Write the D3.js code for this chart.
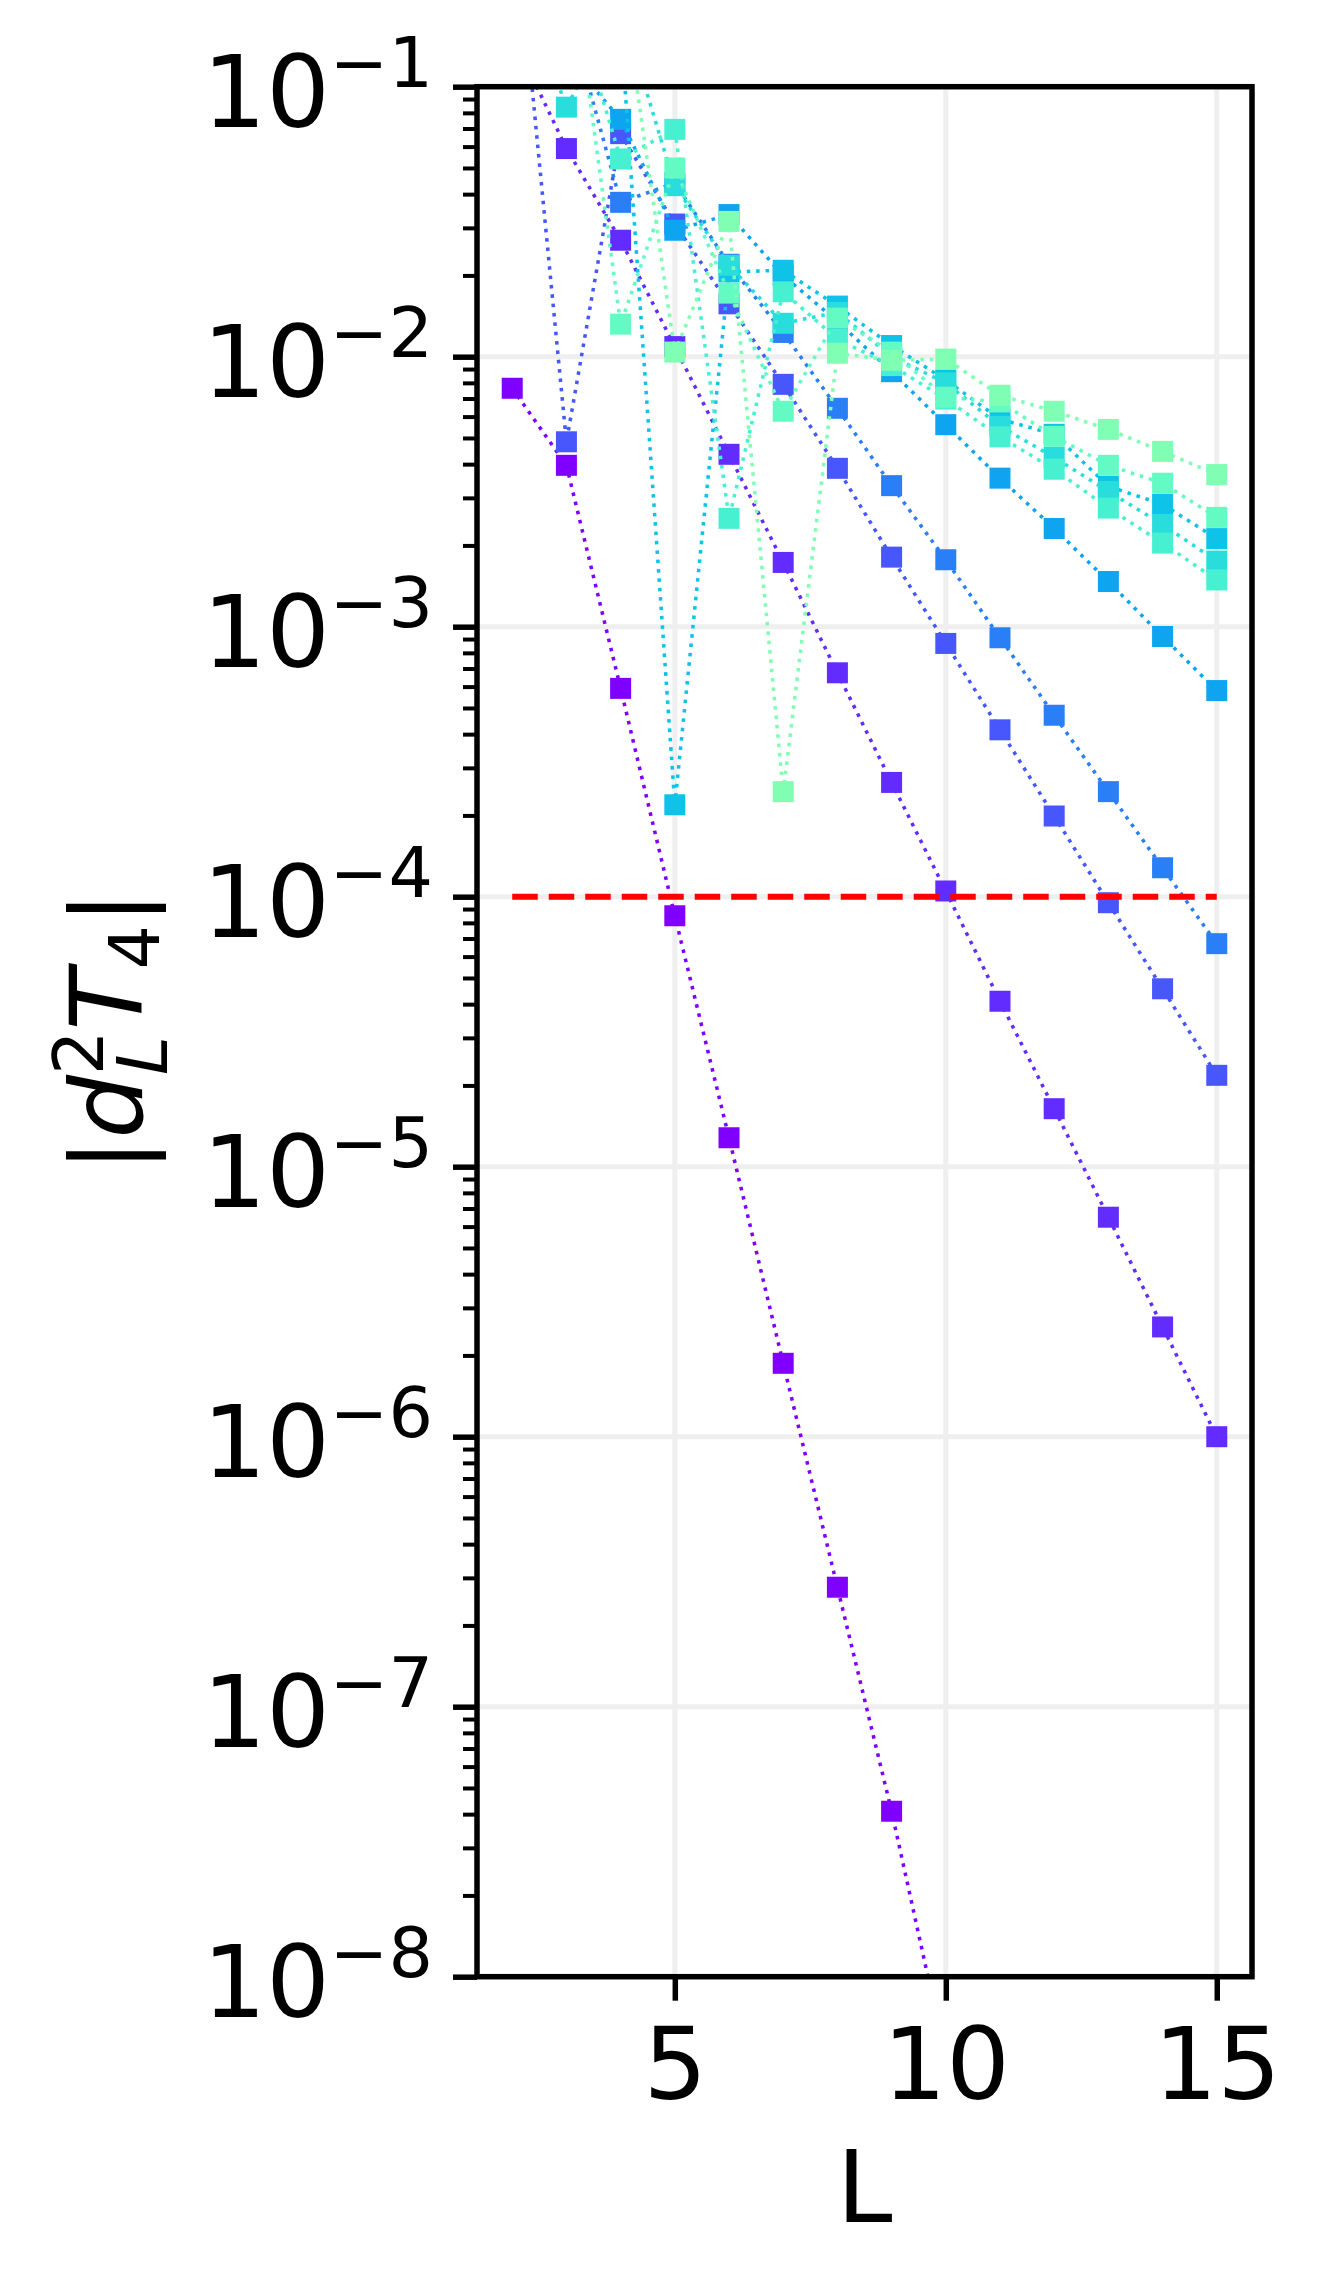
<!DOCTYPE html>
<html>
<head>
<meta charset="utf-8">
<script src="https://cdn.jsdelivr.net/npm/d3@7"></script>
<style>
  body { margin: 0; background: #fff; }
  svg { display: block; }
  text { font-family: "DejaVu Sans", sans-serif; fill: #000; }
</style>
</head>
<body>
<div id="chart"></div>
<script>
// system sizes on the x axis
const sizes = [2, 3, 4, 5, 6, 7, 8, 9, 10, 11, 12, 13, 14, 15];

// |d_L^2 T_4| for each curve (values above 1e-1 / below 1e-8 are off-chart estimates)
const s0 = [7.64e-3, 3.96e-3, 5.91e-4, 8.5e-5, 1.28e-5, 1.87e-6, 2.77e-7, 4.1e-8, 5.0e-9, 7.0e-10, 1.0e-10, 1.5e-11, 2.0e-12, 3.0e-13];
const s1 = [1.55e-1, 5.9e-2, 2.7e-2, 1.09e-2, 4.35e-3, 1.73e-3, 6.75e-4, 2.65e-4, 1.05e-4, 4.1e-5, 1.64e-5, 6.5e-6, 2.55e-6, 1.0e-6];
const s2 = [5.7e-1, 4.84e-3, 6.7e-2, 3.1e-2, 1.57e-2, 7.9e-3, 3.86e-3, 1.81e-3, 8.67e-4, 4.15e-4, 1.99e-4, 9.5e-5, 4.56e-5, 2.18e-5];
const s3 = [2.5e-1, 2.0e-1, 3.73e-2, 4.4e-2, 2.2e-2, 1.23e-2, 6.44e-3, 3.33e-3, 1.77e-3, 9.1e-4, 4.7e-4, 2.45e-4, 1.28e-4, 6.7e-5];
const s4 = [3.0e-1, 1.3e-1, 7.57e-2, 2.94e-2, 3.36e-2, 2.0e-2, 1.35e-2, 8.8e-3, 5.6e-3, 3.55e-3, 2.31e-3, 1.47e-3, 9.2e-4, 5.8e-4];
const s5 = [4.0e-1, 3.0e-1, 1.7e-1, 2.19e-4, 2.06e-2, 2.09e-2, 1.54e-2, 1.1e-2, 8.2e-3, 5.87e-3, 5.16e-3, 3.31e-3, 2.84e-3, 2.12e-3];
const s6 = [3.0e-1, 8.4e-2, 2.0e-1, 4.3e-2, 2.18e-2, 1.33e-2, 1.46e-2, 1.0e-2, 8.0e-3, 5.52e-3, 4.24e-3, 3.17e-3, 2.39e-3, 1.75e-3];
const s7 = [2.0e-1, 2.5e-1, 5.4e-2, 6.95e-2, 2.52e-3, 1.74e-2, 1.16e-2, 9.27e-3, 6.97e-3, 5.05e-3, 3.83e-3, 2.75e-3, 2.04e-3, 1.49e-3];
const s8 = [2.5e-1, 3.9e-1, 1.32e-2, 5.0e-2, 1.72e-2, 6.28e-3, 1.39e-2, 1.04e-2, 7.08e-3, 6.8e-3, 5.07e-3, 3.96e-3, 3.4e-3, 2.54e-3];
const s9 = [3.0e-1, 5.0e-1, 2.6e-1, 1.04e-2, 3.17e-2, 2.45e-4, 1.03e-2, 9.7e-3, 9.8e-3, 7.2e-3, 6.28e-3, 5.38e-3, 4.46e-3, 3.66e-3];
const series = [s0, s1, s2, s3, s4, s5, s6, s7, s8, s9];

// threshold line
const threshold = 1e-4;
const thresholdRange = [2, 15];

// ticks
const xTicks = [5, 10, 15];
const yExponents = [-1, -2, -3, -4, -5, -6, -7, -8];

const W = 1330, H = 2295;
const plot = { left: 477, right: 1252, top: 86.7, bottom: 1976.7 };

// matplotlib "rainbow" colormap
function rainbow(t) {
    const r = Math.abs(2 * t - 0.5);
    const g = Math.sin(Math.PI * t);
    const b = Math.cos(Math.PI * t / 2);
    return d3.rgb(r * 255, g * 255, b * 255).formatHex();
}
const colors = series.map((s, i) => rainbow(0.5 * i / (series.length - 1)));

const svg = d3.select('#chart').append('svg')
    .attr('width', W)
    .attr('height', H)
    .attr('viewBox', `0 0 ${W} ${H}`);

const x = d3.scaleLinear().domain([1.35, 15.65]).range([plot.left, plot.right]);
const y = d3.scaleLog().domain([1e-8, 1e-1]).range([plot.bottom, plot.top]);

svg.append('defs').append('clipPath').attr('id', 'clip')
    .append('rect')
    .attr('x', plot.left).attr('y', plot.top)
    .attr('width', plot.right - plot.left)
    .attr('height', plot.bottom - plot.top);

// grid
const grid = svg.append('g').attr('class', 'grid')
    .attr('stroke', '#efefef').attr('stroke-width', 5);
grid.selectAll('.gx').data(xTicks).enter().append('line')
    .attr('x1', d => x(d)).attr('x2', d => x(d))
    .attr('y1', plot.top).attr('y2', plot.bottom);
grid.selectAll('.gy').data(yExponents).enter().append('line')
    .attr('x1', plot.left).attr('x2', plot.right)
    .attr('y1', d => y(Math.pow(10, d))).attr('y2', d => y(Math.pow(10, d)));

// data
const data = svg.append('g').attr('clip-path', 'url(#clip)');
const line = d3.line().x((d, i) => x(sizes[i])).y(d => y(d));
const ms = 21;

series.forEach((s, i) => {
    const g = data.append('g');
    g.append('path')
        .attr('d', line(s))
        .attr('fill', 'none')
        .attr('stroke', colors[i])
        .attr('stroke-width', 3.55)
        .attr('stroke-dasharray', '3.55,5.85');
    g.selectAll('rect').data(s).enter().append('rect')
        .attr('x', (d, j) => x(sizes[j]) - ms / 2)
        .attr('y', d => y(d) - ms / 2)
        .attr('width', ms)
        .attr('height', ms)
        .attr('fill', colors[i]);
});

data.append('line')
    .attr('x1', x(thresholdRange[0])).attr('x2', x(thresholdRange[1]))
    .attr('y1', y(threshold)).attr('y2', y(threshold))
    .attr('stroke', '#ff0000')
    .attr('stroke-width', 6)
    .attr('stroke-dasharray', '25.5,11');

// axes
const xAxis = svg.append('g')
    .attr('transform', `translate(0,${plot.bottom})`)
    .call(d3.axisBottom(x).tickValues(xTicks).tickSize(24).tickPadding(27).tickFormat(d3.format('d')));
xAxis.select('.domain').remove();
xAxis.selectAll('line').attr('stroke-width', 5.5);
xAxis.selectAll('text').attr('font-size', 100).attr('font-family', 'DejaVu Sans');

const minors = [];
for (let e = -8; e < -1; e++) {
    for (let m = 2; m <= 9; m++) minors.push(m * Math.pow(10, e));
}
const yMinor = svg.append('g')
    .attr('transform', `translate(${plot.left},0)`)
    .call(d3.axisLeft(y).tickValues(minors).tickSize(14).tickFormat(() => ''));
yMinor.select('.domain').remove();
yMinor.selectAll('line').attr('stroke-width', 4);

const yMajor = svg.append('g')
    .attr('transform', `translate(${plot.left},0)`)
    .call(d3.axisLeft(y).tickValues(yExponents.map(e => Math.pow(10, e))).tickSize(24).tickFormat(() => ''));
yMajor.select('.domain').remove();
yMajor.selectAll('line').attr('stroke-width', 5.5);

// y tick labels as 10^{e}
const yLabels = svg.append('g');
yExponents.forEach(e => {
    const t = yLabels.append('text')
        .attr('x', 433)
        .attr('y', y(Math.pow(10, e)) + 40)
        .attr('text-anchor', 'end');
    t.append('tspan').attr('font-size', 100).text('10');
    t.append('tspan').attr('font-size', 70).attr('dy', -40).text('\u2212' + Math.abs(e));
});

// spines
svg.append('rect')
    .attr('x', plot.left).attr('y', plot.top)
    .attr('width', plot.right - plot.left)
    .attr('height', plot.bottom - plot.top)
    .attr('fill', 'none')
    .attr('stroke', '#000')
    .attr('stroke-width', 5.5);

// axis labels
svg.append('text')
    .attr('x', (plot.left + plot.right) / 2)
    .attr('y', 2222)
    .attr('text-anchor', 'middle')
    .attr('font-size', 100)
    .text('L');

const yl = svg.append('text')
    .attr('transform', `translate(141.6,${(plot.top + plot.bottom) / 2}) rotate(-90)`)
    .attr('text-anchor', 'middle')
    .attr('font-size', 100);
yl.append('tspan').text('|');
yl.append('tspan').attr('font-style', 'italic').text('d');
yl.append('tspan').attr('font-size', 70).attr('dy', -39).text('2');
yl.append('tspan').attr('font-size', 70).attr('font-style', 'italic').attr('dx', -44.5).attr('dy', 64.7).text('L');
yl.append('tspan').attr('font-style', 'italic').attr('dx', 5.5).attr('dy', -25.7).text('T');
yl.append('tspan').attr('font-size', 70).attr('dy', 17).text('4');
yl.append('tspan').attr('dy', -17).text('|');
</script>
</body>
</html>
